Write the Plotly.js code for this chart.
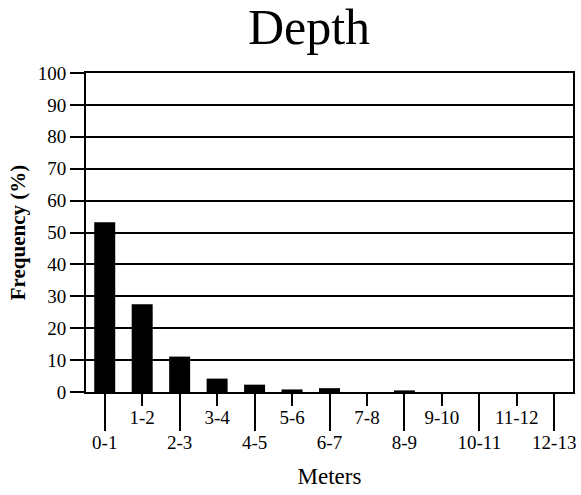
<!DOCTYPE html>
<html>
<head>
<meta charset="utf-8">
<script src="https://cdn.plot.ly/plotly-3.0.1.min.js"></script>
<style>html,body{margin:0;padding:0;background:#fff;}#chart{width:581px;height:495px;}</style>
</head>
<body>
<div id="chart"></div>
<script>
const categories = ["0-1","1-2","2-3","3-4","4-5","5-6","6-7","7-8","8-9","9-10","10-11","11-12","12-13"];
const frequency = [53.2, 27.5, 11.1, 4.2, 2.3, 0.8, 1.2, 0, 0.5, 0, 0, 0, 0];
const yTicks = [0,10,20,30,40,50,60,70,80,90,100];

const idx = categories.map((c,i)=>i);
const evenIdx = idx.filter(i=>i%2===0);
const oddIdx = idx.filter(i=>i%2===1);

const serif = "Liberation Serif, Times New Roman, serif";
const tickFont = {family: serif, size: 19, color: "#000"};

const trace = {
  type: "bar",
  x: idx,
  y: frequency,
  width: 0.56,
  marker: {color: "#000", line: {width: 0}},
  xaxis: "x",
  yaxis: "y",
  hoverinfo: "skip"
};

const layout = {
  width: 581, height: 495,
  margin: {l: 86, r: 8, t: 73, b: 103},
  paper_bgcolor: "#fff", plot_bgcolor: "#fff",
  showlegend: false,
  title: {text: "Depth", font: {family: serif, size: 50, color: "#000"},
          x: 309/581, xref: "container", xanchor: "center",
          y: 1 - 26/495, yref: "container", yanchor: "middle"},
  xaxis: {
    range: [-0.5, 12.5], fixedrange: true,
    tickmode: "array", tickvals: evenIdx, ticktext: evenIdx.map(i=>categories[i]),
    ticks: "outside", ticklen: 37, tickwidth: 2, tickcolor: "#000",
    ticklabelstandoff: -5,
    tickfont: tickFont, showgrid: false, zeroline: false,
    showline: true, linewidth: 2, linecolor: "#000", mirror: true,
    title: {text: "Meters", font: {family: serif, size: 23, color: "#000"}, standoff: 16}
  },
  xaxis2: {
    range: [-0.5, 12.5], overlaying: "x", anchor: "y", side: "bottom",
    tickmode: "array", tickvals: oddIdx, ticktext: oddIdx.map(i=>categories[i]),
    ticks: "outside", ticklen: 13, tickwidth: 2, tickcolor: "#000",
    ticklabelstandoff: -5,
    tickfont: tickFont, showgrid: false, zeroline: false, showline: false
  },
  yaxis: {
    range: [0, 100], fixedrange: true,
    tickmode: "array", tickvals: yTicks,
    ticks: "outside", ticklen: 14, tickwidth: 2, tickcolor: "#000",
    tickfont: tickFont,
    showgrid: true, gridcolor: "#000", gridwidth: 2,
    zeroline: false,
    showline: true, linewidth: 2, linecolor: "#000", mirror: true,
    title: {text: "<b>Frequency (%)</b>", font: {family: serif, size: 21, color: "#000"}, standoff: 6}
  }
};

const dummy = {type: "scatter", x: [], y: [], xaxis: "x2", yaxis: "y", hoverinfo: "skip"};

Plotly.newPlot("chart", [trace, dummy], layout, {staticPlot: true, displayModeBar: false});
</script>
</body>
</html>
